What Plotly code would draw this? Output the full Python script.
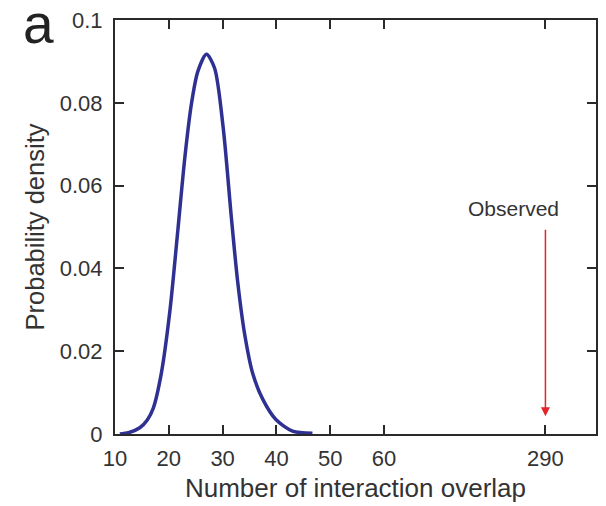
import plotly.graph_objects as go

# --- data ---
overlap = [10.9, 12.5, 14.6, 16.0, 17.1, 18.6, 20.2, 21.7, 23.0, 24.2, 25.4, 27.0, 28.5, 30.1,
           31.6, 32.8, 34.1, 35.6, 37.5, 39.9, 43.0, 46.7]
density = [0.0, 0.0003, 0.0015, 0.0034, 0.0062, 0.0146, 0.0297, 0.0495, 0.067, 0.0797, 0.0876,
           0.0917, 0.0884, 0.0741, 0.0527, 0.0368, 0.0241, 0.0146, 0.0083, 0.0035,
           0.0007, 0.0002]
x_ticks = [10, 20, 30, 40, 50, 60, 290]
y_ticks = [0, 0.02, 0.04, 0.06, 0.08, 0.1]
y_tick_labels = ["0", "0.02", "0.04", "0.06", "0.08", "0.1"]
observed_value = 290
observed_arrow_top = 0.0497
observed_arrow_tip = 0.0043
observed_label_y = 0.0545


# broken x-axis: linear up to 60, compressed beyond
def bx(v):
    return v if v <= 60 else 60 + (v - 60) * 30.0 / 230.0


FONT = "Liberation Sans, Arial, Helvetica, sans-serif"
TXT = "#333333"
AX = "#2a2a2a"

fig = go.Figure()
fig.add_trace(go.Scatter(
    x=[bx(v) for v in overlap], y=density, mode="lines",
    line=dict(color="#2E3192", width=3.5, shape="spline", smoothing=0.8),
    showlegend=False, hoverinfo="skip"))

fig.add_annotation(
    x=bx(observed_value), y=observed_arrow_tip, ax=bx(observed_value), ay=observed_arrow_top,
    xref="x", yref="y", axref="x", ayref="y", text="", showarrow=True,
    arrowhead=2, arrowsize=1.2, arrowwidth=1.5, arrowcolor="#E3242B")
fig.add_annotation(
    x=bx(observed_value), y=observed_label_y, xref="x", yref="y", xshift=-32,
    text="Observed", showarrow=False, font=dict(family=FONT, size=21, color=TXT),
    xanchor="center", yanchor="middle")
fig.add_annotation(
    x=-0.1594, y=0.99, xref="paper", yref="paper", text="a", showarrow=False,
    font=dict(family=FONT, size=55, color="#222222"), xanchor="center", yanchor="middle")

axis_common = dict(showgrid=False, zeroline=False, showline=True, linecolor=AX, linewidth=2,
                   ticks="inside", ticklen=9, tickwidth=1.5, tickcolor=AX, mirror="ticks",
                   tickfont=dict(family=FONT, size=22, color=TXT))

fig.update_layout(
    width=606, height=506,
    margin=dict(l=115, r=8, t=18, b=68),
    paper_bgcolor="white", plot_bgcolor="white",
    xaxis=dict(range=[10, 99.4], tickmode="array",
               tickvals=[bx(v) for v in x_ticks], ticktext=[str(v) for v in x_ticks],
               ticklabelstandoff=4,
               title=dict(text="Number of interaction overlap",
                          font=dict(family=FONT, size=26, color=TXT), standoff=8),
               **axis_common),
    yaxis=dict(range=[0, 0.1], tickmode="array", tickvals=y_ticks, ticktext=y_tick_labels,
               ticklabelstandoff=6,
               title=dict(text="Probability density",
                          font=dict(family=FONT, size=25.5, color=TXT), standoff=8),
               **axis_common),
)

fig.write_html("out.html")
